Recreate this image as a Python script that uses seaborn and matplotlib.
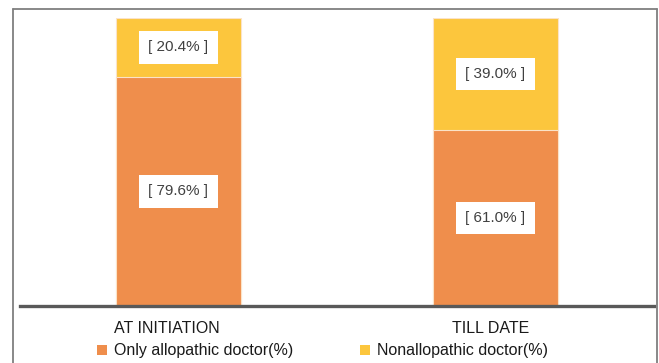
import matplotlib
matplotlib.use("Agg")
import matplotlib.pyplot as plt
import matplotlib.transforms as mtrans
from matplotlib.patches import Patch
from matplotlib.lines import Line2D
import pandas as pd
import seaborn as sns

# data
stages = ["AT INITIATION", "TILL DATE"]
only_allopathic = [79.6, 61.0]
non_allopathic = [20.4, 39.0]
series_names = ["Only allopathic doctor(%)", "Nonallopathic doctor(%)"]

orange = "#EF8E4C"
yellow = "#FCC63D"

sns.set_style("white")
plt.rcParams["font.family"] = ["Liberation Sans", "DejaVu Sans"]

df = pd.DataFrame({"stage": stages,
                   "only": only_allopathic,
                   "non": non_allopathic})
df["total"] = df["only"] + df["non"]

fig = plt.figure(figsize=(6.59, 3.63), dpi=100)
ax = fig.add_axes([20 / 659, 1 - 306 / 363, 634 / 659, 288 / 363])

# stacked: full height in yellow, then orange over it
sns.barplot(data=df, x="stage", y="total", color=yellow, width=0.395,
            edgecolor="#FBE3C8", linewidth=0.8, ax=ax, saturation=1)
sns.barplot(data=df, x="stage", y="only", color=orange, width=0.395,
            edgecolor="#FBE3C8", linewidth=0.8, ax=ax, saturation=1)

ax.set_xlim(-0.5, 1.5)
ax.set_ylim(0, 100)
ax.set_xlabel("")
ax.set_ylabel("")
ax.set_yticks([])
ax.tick_params(axis="x", length=0, pad=11, labelsize=11.5, labelcolor="#1a1a1a")
for s in ["top", "left", "right"]:
    ax.spines[s].set_visible(False)
ax.spines["bottom"].set_color("#595959")
ax.spines["bottom"].set_linewidth(2.4)

# category labels sit a little left of the bar centres in the original
for lab, dx in zip(ax.get_xticklabels(), [-12, -5]):
    lab.set_transform(lab.get_transform() +
                      mtrans.ScaledTranslation(dx / 100, 0, fig.dpi_scale_trans))

box = dict(boxstyle="square,pad=0.6", fc="white", ec="none")
for i in range(len(stages)):
    lo = only_allopathic[i]
    hi = non_allopathic[i]
    ax.text(i, lo / 2, "[ %.1f%% ]" % lo, ha="center", va="center",
            fontsize=11, color="#404040", bbox=box)
    ax.text(i, lo + hi / 2, "[ %.1f%% ]" % hi, ha="center", va="center",
            fontsize=11, color="#404040", bbox=box)

handles = [Patch(facecolor=orange, edgecolor="none"),
           Patch(facecolor=yellow, edgecolor="none")]
fig.legend(handles, series_names, loc="center left",
           bbox_to_anchor=(89 / 659, 1 - 351 / 363), ncol=2, frameon=False,
           fontsize=11.5, handlelength=0.6, handleheight=0.6,
           handletextpad=0.45, columnspacing=4.2, borderpad=0,
           labelcolor="#1a1a1a")

# outer frame of the picture
frame_c = "#7f7f7f"
fig.add_artist(Line2D([13 / 659, 657 / 659], [1 - 9 / 363, 1 - 9 / 363],
                      color=frame_c, lw=1.3, transform=fig.transFigure))
fig.add_artist(Line2D([13 / 659, 13 / 659], [0, 1 - 9 / 363],
                      color=frame_c, lw=1.3, transform=fig.transFigure))
fig.add_artist(Line2D([657 / 659, 657 / 659], [0, 1 - 9 / 363],
                      color=frame_c, lw=1.3, transform=fig.transFigure))

fig.savefig("out.png", dpi=100)
